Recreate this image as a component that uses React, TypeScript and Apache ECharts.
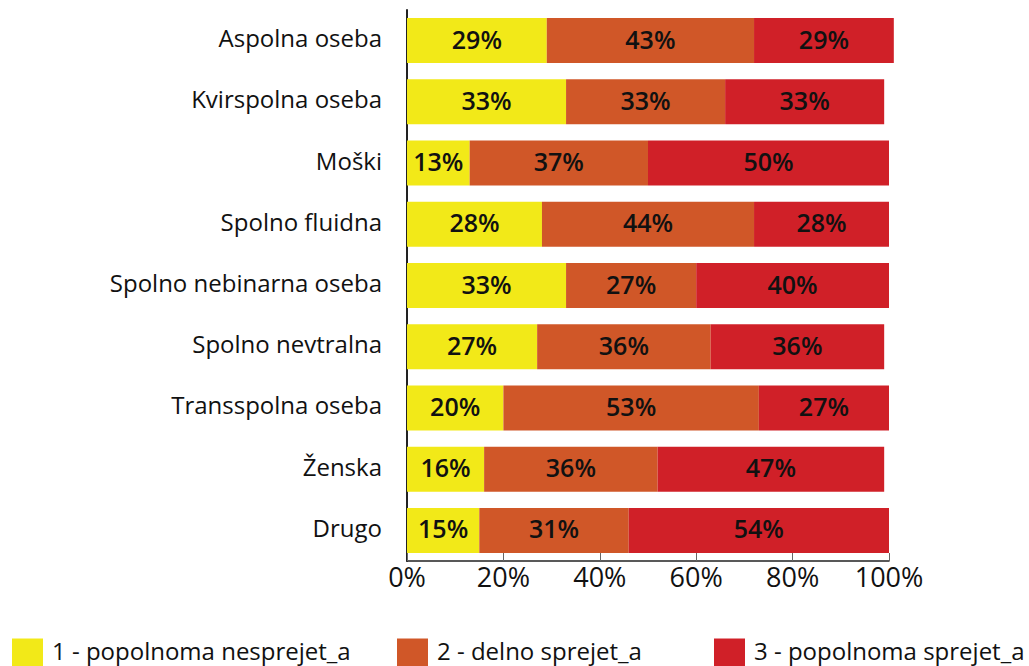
import React, { useEffect, useRef } from "react";
import * as echarts from "echarts";

const categories = [
  "Aspolna oseba",
  "Kvirspolna oseba",
  "Moški",
  "Spolno fluidna",
  "Spolno nebinarna oseba",
  "Spolno nevtralna",
  "Transspolna oseba",
  "Ženska",
  "Drugo",
];
const seriesNames = ["1 - popolnoma nesprejet_a", "2 - delno sprejet_a", "3 - popolnoma sprejet_a"];
const notAccepted = [29, 33, 13, 28, 33, 27, 20, 16, 15];
const partlyAccepted = [43, 33, 37, 44, 27, 36, 53, 36, 31];
const fullyAccepted = [29, 33, 50, 28, 40, 36, 27, 47, 54];
const xTicks = [0, 20, 40, 60, 80, 100];

const colors = ["#F2E918", "#D05728", "#D02028"];
const FONT = "'Open Sans', sans-serif";

export default function App() {
  const ref = useRef<HTMLDivElement>(null);
  useEffect(() => {
    if (!ref.current) return;
    const chart = echarts.init(ref.current, null, { renderer: "svg" });
    const values = [notAccepted, partlyAccepted, fullyAccepted];
    const legendLefts = [12, 397, 714];
    chart.setOption({
      animation: false,
      textStyle: { fontFamily: FONT },
      grid: { left: 407, top: 10, width: 482, height: 551, containLabel: false },
      legend: seriesNames.map((n, i) => ({
        data: [n],
        left: legendLefts[i],
        top: 638,
        padding: 0,
        itemWidth: 31,
        itemHeight: 31,
        itemGap: 4,
        icon: "rect",
        selectedMode: false,
        formatter: (name: string) => "{t|" + name + "}",
        textStyle: {
          fontFamily: FONT,
          fontSize: 24,
          color: "#111",
          rich: { t: { fontFamily: FONT, fontSize: 24, color: "#111", padding: [0, 0, 8, 4] } },
        },
      })),
      xAxis: {
        type: "value",
        min: xTicks[0],
        max: xTicks[xTicks.length - 1],
        interval: 20,
        splitLine: { show: false },
        axisLine: { show: true, lineStyle: { color: "#222", width: 1.5 } },
        axisTick: { show: true, inside: true, length: 8, lineStyle: { color: "#666" } },
        axisLabel: { formatter: "{value}%", fontSize: 27, color: "#111", fontFamily: FONT, margin: 2 },
      },
      yAxis: {
        type: "category",
        data: categories,
        inverse: true,
        axisLine: { show: true, lineStyle: { color: "#222", width: 2 } },
        axisTick: { show: false },
        axisLabel: {
          fontSize: 24,
          color: "#111",
          fontFamily: FONT,
          margin: 25,
          formatter: (v: string) => "{c|" + v + "}",
          rich: { c: { fontFamily: FONT, fontSize: 24, color: "#111", padding: [0, 0, 6, 0] } },
        },
      },
      series: seriesNames.map((n, i) => ({
        name: n,
        type: "bar",
        stack: "total",
        barWidth: 45,
        clip: false,
        data: values[i],
        itemStyle: { color: colors[i] },
        label: {
          show: true,
          position: "inside",
          offset: [0, -2],
          formatter: "{c}%",
          color: "#111",
          fontSize: 25,
          fontWeight: 600,
          fontFamily: FONT,
        },
      })),
    });
    return () => chart.dispose();
  }, []);
  return (
    <div
      ref={ref}
      style={{ position: "absolute", left: 0, top: 0, width: 1029, height: 666 }}
    />
  );
}
